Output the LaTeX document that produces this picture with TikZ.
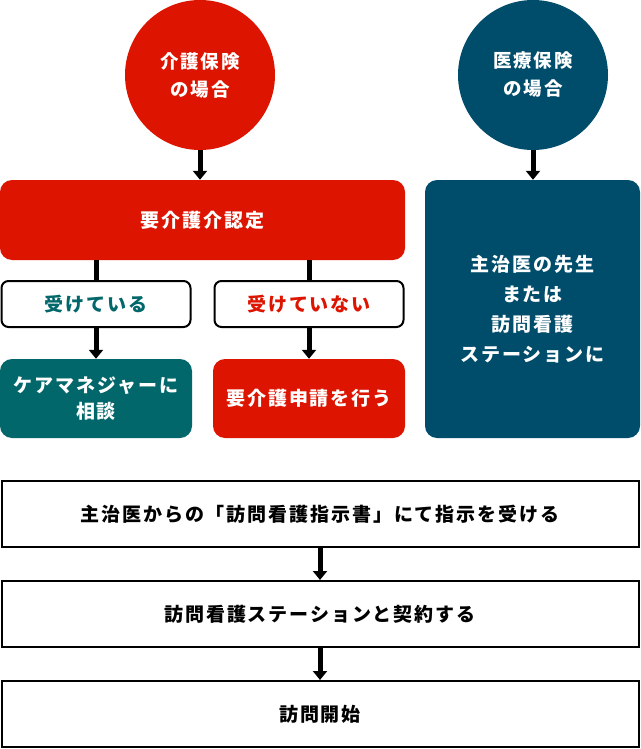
\documentclass[tikz,border=0pt]{standalone}
\usepackage{fontspec}
\setmainfont{Noto Sans CJK JP}[LetterSpace=10]
\usetikzlibrary{arrows.meta}
\definecolor{cred}{HTML}{DC1400}
\definecolor{cteal}{HTML}{02676A}
\definecolor{cnavy}{HTML}{004D6B}
\begin{document}
\begin{tikzpicture}[x=1pt,y=-1pt,
  circ/.style={circle,minimum size=150pt,inner sep=0pt,text=white,align=center,font=\bfseries\fontsize{18.5}{28}\selectfont},
  fillbox/.style={rounded corners=12pt,inner sep=0pt,text=white,align=center,font=\bfseries\fontsize{19}{30}\selectfont},
  linebox/.style={draw=black,line width=2pt,rounded corners=7pt,fill=white,inner sep=0pt,align=center,font=\bfseries\fontsize{19}{20}\selectfont,minimum width=189pt,minimum height=46pt},
  stepbox/.style={draw=black,line width=2pt,fill=white,inner sep=0pt,align=center,font=\bfseries\fontsize{19}{20}\selectfont,minimum width=637pt,minimum height=66pt},
  arr/.style={line width=5pt,-{Triangle[width=14pt,length=9pt]}},
  conn/.style={line width=5pt}
]
\useasboundingbox (0,0) rectangle (640,749);
\fill[white] (0,0) rectangle (640,749);
% circles
\node[circ,fill=cred] (c1) at (200,75) {介護保険\\の場合};
\node[circ,fill=cnavy] (c2) at (533,75) {医療保険\\の場合};
% main boxes
\node[fillbox,fill=cred,minimum width=405pt,minimum height=80pt] (b1) at (202.5,220) {要介護介認定};
\node[fillbox,fill=cnavy,minimum width=215pt,minimum height=258pt] (b2) at (532.5,309) {主治医の先生\\または\\訪問看護\\ステーションに};
% branch boxes
\node[linebox,text=cteal] (y1) at (96,304) {受けている};
\node[linebox,text=cred] (n1) at (309,304) {受けていない};
\node[fillbox,fill=cteal,minimum width=192pt,minimum height=79pt,font=\bfseries\fontsize{19}{26}\selectfont] (t1) at (96,398.5) {ケアマネジャーに\\相談};
\node[fillbox,fill=cred,minimum width=192pt,minimum height=79pt] (r2) at (309,398.5) {要介護申請を行う};
% bottom steps
\node[stepbox] (w1) at (320,514) {主治医からの「訪問看護指示書」にて指示を受ける};
\node[stepbox] (w2) at (320,614) {訪問看護ステーションと契約する};
\node[stepbox] (w3) at (320,714) {訪問開始};
% connectors
\draw[arr] (c1.south) -- (c1.south |- b1.north);
\draw[arr] (c2.south) -- (c2.south |- b2.north);
\draw[conn] (y1.north) -- (y1.north |- b1.south);
\draw[conn] (n1.north) -- (n1.north |- b1.south);
\draw[arr] (y1.south) -- (t1.north);
\draw[arr] (n1.south) -- (r2.north);
\draw[arr] (w1.south) -- (w2.north);
\draw[arr] (w2.south) -- (w3.north);
\end{tikzpicture}
\end{document}
